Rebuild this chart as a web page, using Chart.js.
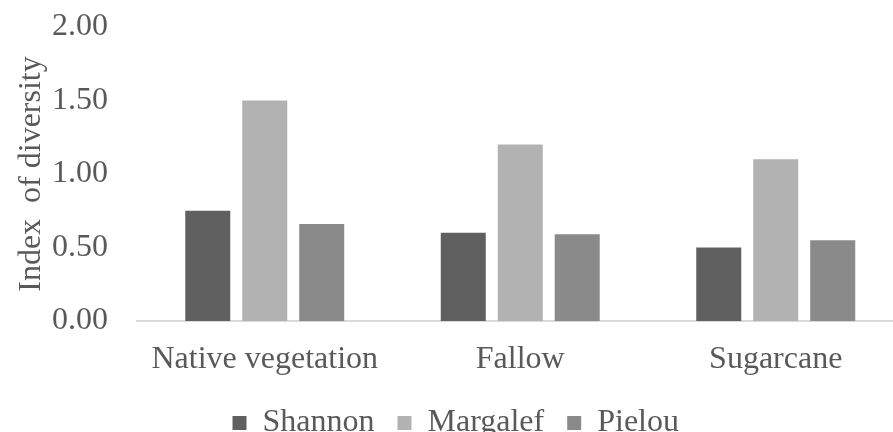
<!DOCTYPE html>
<html>
<head>
<meta charset="utf-8">
<script src="https://cdn.jsdelivr.net/npm/chart.js@4"></script>
<style>
  html, body { margin: 0; padding: 0; background: #ffffff; overflow: hidden; }
  #wrap { position: relative; width: 918px; height: 432px; }
</style>
</head>
<body>
<div id="wrap"><canvas id="c"></canvas></div>
<script>
const categories = ["Native vegetation", "Fallow", "Sugarcane"];
const shannon = [0.75, 0.60, 0.50];
const margalef = [1.50, 1.20, 1.10];
const pielou = [0.66, 0.59, 0.55];
const yTicks = [0, 0.5, 1.0, 1.5, 2.0];

const FONT = "'Liberation Serif', 'Times New Roman', serif";
const TXT = "#595959";

new Chart(document.getElementById('c'), {
  type: 'bar',
  data: {
    labels: categories,
    datasets: [
      { label: 'Shannon', data: shannon, backgroundColor: '#606060' },
      { label: 'Margalef', data: margalef, backgroundColor: '#b2b2b2' },
      { label: 'Pielou', data: pielou, backgroundColor: '#8a8a8a' }
    ]
  },
  options: {
    responsive: true,
    maintainAspectRatio: false,
    animation: false,
    devicePixelRatio: 1,
    layout: { padding: { top: 27, left: 8, right: 14.5, bottom: -17 } },
    datasets: { bar: { categoryPercentage: 0.669, barPercentage: 0.79 } },
    plugins: {
      legend: {
        position: 'bottom',
        labels: { font: { family: FONT, size: 32 }, color: TXT, boxWidth: 14, boxHeight: 14, padding: 23 }
      },
      tooltip: { enabled: false }
    },
    scales: {
      x: {
        afterFit: s => { s.height = 63; },
        grid: { display: false, drawTicks: false },
        border: { display: true, color: '#d9d9d9', width: 2 },
        ticks: { font: { family: FONT, size: 32 }, color: TXT, padding: 19, maxRotation: 0 }
      },
      y: {
        min: 0, max: 2,
        afterBuildTicks: s => { s.ticks = yTicks.map(v => ({ value: v })); },
        afterFit: s => { s.width = 137 - 8; s.paddingTop = 0; s.paddingBottom = 0; },
        grid: { display: false, drawTicks: false },
        border: { display: false },
        ticks: { font: { family: FONT, size: 32 }, color: TXT, padding: 29, callback: v => Number(v).toFixed(2) },
        title: { display: true, text: 'Index  of diversity', font: { family: FONT, size: 32 }, color: TXT, padding: 4 }
      }
    }
  }
});
</script>
</body>
</html>
